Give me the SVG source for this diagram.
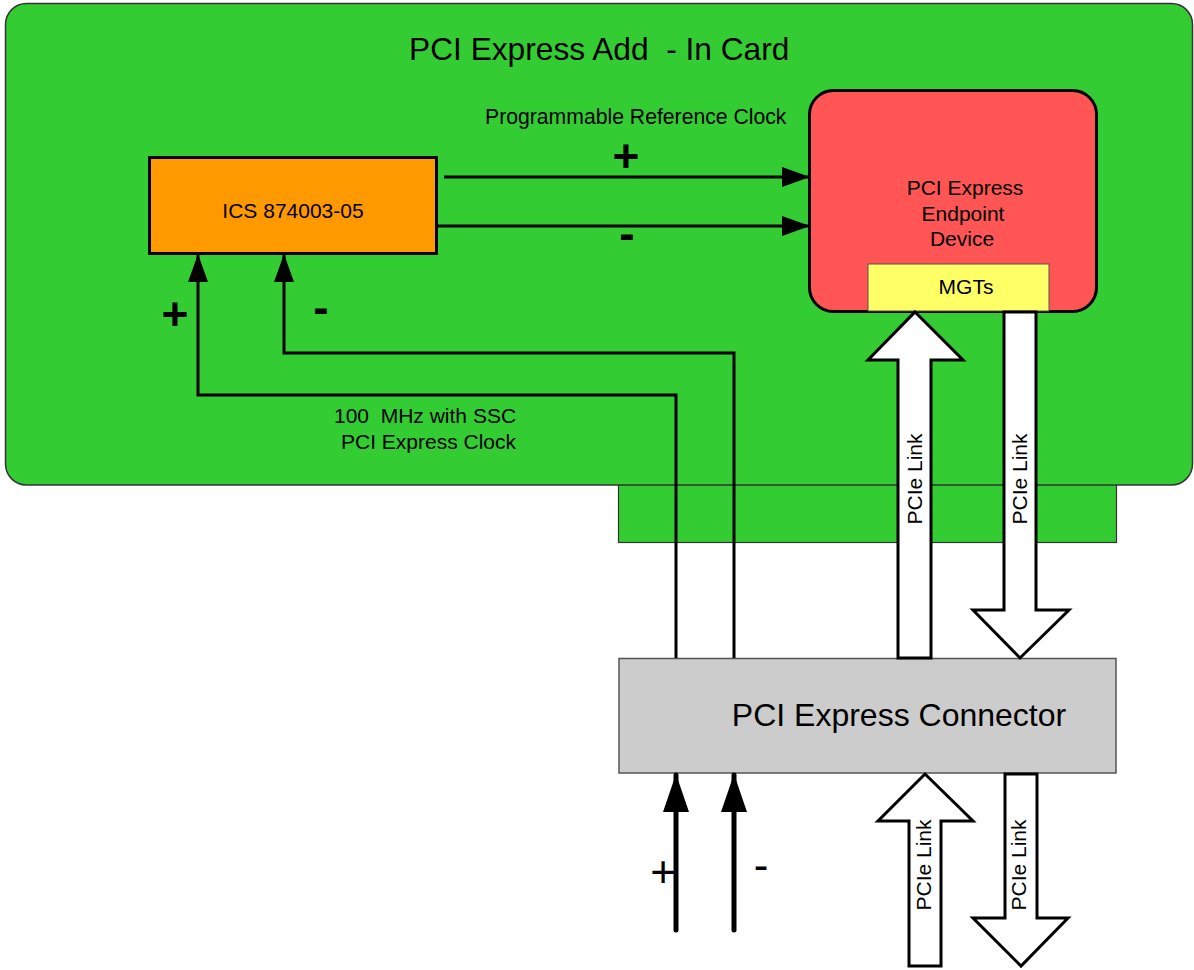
<svg xmlns="http://www.w3.org/2000/svg" width="1194" height="970" viewBox="0 0 1194 970">
<style>
text{font-family:"Liberation Sans",Arial,sans-serif;fill:#000;white-space:pre}
.t21{font-size:21px}
.sig{font-size:46px;font-weight:bold;text-anchor:middle}
.sigr{font-size:44px;text-anchor:middle}
.wire{fill:none;stroke:#000;stroke-width:3}
.thick{fill:none;stroke:#000;stroke-width:5;stroke-linecap:round}
.hollow{fill:#fff;stroke:#000;stroke-width:3;stroke-linejoin:miter}
.link{font-size:21px;text-anchor:middle}
</style>
<defs>
<marker id="ah" markerUnits="userSpaceOnUse" markerWidth="28" markerHeight="20" viewBox="0 0 28 20" refX="27" refY="10" orient="auto"><path d="M0,0 L28,10 L0,20 z" fill="#000"/></marker>
<marker id="ahb" markerUnits="userSpaceOnUse" markerWidth="38" markerHeight="26" viewBox="0 0 38 26" refX="37" refY="13" orient="auto"><path d="M0,0 L38,13 L0,26 z" fill="#000"/></marker>
</defs>
<rect width="1194" height="970" fill="#fff"/>
<g id="card">
<rect x="618.5" y="470" width="498" height="72.5" fill="#33CC33" stroke="#333" stroke-width="1.2"/>
<rect x="5.5" y="3.5" width="1187" height="481.5" rx="21" ry="21" fill="#33CC33" stroke="#333" stroke-width="1.5"/>
<text x="409" y="60" xml:space="preserve" style="font-size:31.7px">PCI Express Add  - In Card</text>
</g>
<g id="ics">
<rect x="149.5" y="157.5" width="287" height="96" fill="#FF9900" stroke="#000" stroke-width="3"/>
<text class="t21" x="293" y="218" text-anchor="middle">ICS 874003-05</text>
</g>
<g id="endpoint">
<rect x="809.5" y="90.5" width="287" height="221" rx="24" ry="24" fill="#FF5555" stroke="#000" stroke-width="3"/>
<text class="t21" x="965" y="195" text-anchor="middle">PCI Express</text>
<text class="t21" x="963" y="221" text-anchor="middle">Endpoint</text>
<text class="t21" x="962" y="246" text-anchor="middle">Device</text>
</g>
<g id="mgts">
<rect x="868" y="264" width="181" height="47" fill="#FFFF66" stroke="#555" stroke-width="1"/>
<text class="t21" x="966" y="294" text-anchor="middle">MGTs</text>
</g>
<g id="connector">
<rect x="619" y="658.5" width="497" height="114.5" fill="#CCCCCC" stroke="#555" stroke-width="1.5"/>
<text x="899" y="726" text-anchor="middle" style="font-size:32px">PCI Express Connector</text>
</g>
<g id="connectors">
<path class="wire" d="M444,177 H809" marker-end="url(#ah)"/>
<path class="wire" d="M437,226 H809" marker-end="url(#ah)"/>
<path class="wire" d="M676,658 V395 H198 V255" marker-end="url(#ah)"/>
<path class="wire" d="M734,658 V353 H284 V255" marker-end="url(#ah)"/>
<path class="thick" d="M676,930 V775" marker-end="url(#ahb)"/>
<path class="thick" d="M734,930 V775" marker-end="url(#ahb)"/>
<polygon class="hollow" points="915,312 963,360 931,360 931,658 898,658 898,360 868,360"/>
<polygon class="hollow" points="1004,312 1036,312 1036,610 1069,610 1020,658 973,610 1004,610"/>
<polygon class="hollow" points="925,774 973,821 941,821 941,966 909,966 909,821 878,821"/>
<polygon class="hollow" points="1005,774 1037,774 1037,918 1068,918 1021,966 973,918 1005,918"/>
</g>
<g id="labels">
<text class="t21" x="485" y="124" style="font-size:21.2px">Programmable Reference Clock</text>
<text class="t21" x="334" y="423" xml:space="preserve">100  MHz with SSC</text>
<text class="t21" x="341" y="449">PCI Express Clock</text>
<text class="sig" x="626" y="172">+</text>
<text class="sig" x="627" y="249">-</text>
<text class="sig" x="175" y="330">+</text>
<text class="sig" x="321" y="323">-</text>
<text class="sigr" x="663" y="887">+</text>
<text class="sigr" x="761" y="880">-</text>
<text class="link" transform="translate(922,479) rotate(-90)">PCIe Link</text>
<text class="link" transform="translate(1027,479) rotate(-90)">PCIe Link</text>
<text class="link" transform="translate(931,865) rotate(-90)">PCIe Link</text>
<text class="link" transform="translate(1026,865) rotate(-90)">PCIe Link</text>
</g>
</svg>
